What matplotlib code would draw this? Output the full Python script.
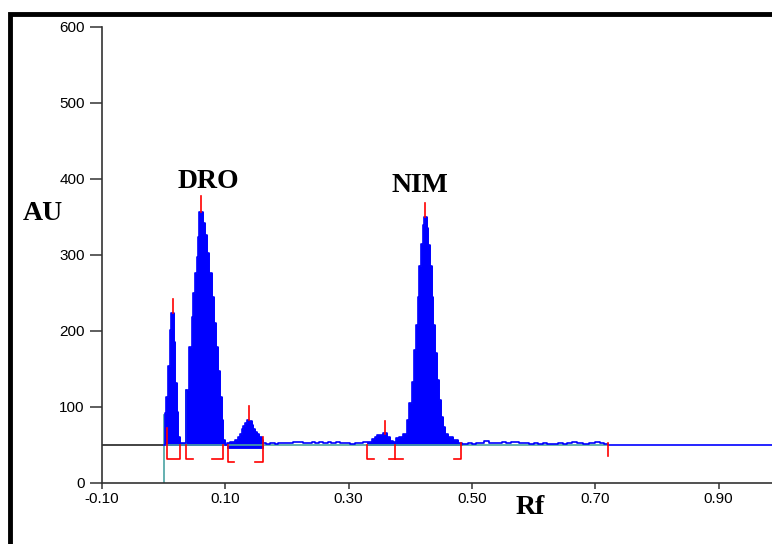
import numpy as np
import matplotlib
matplotlib.use("Agg")
import matplotlib.pyplot as plt
from matplotlib.patches import Rectangle

rf = np.array([
    0.000, 0.002, 0.0045, 0.007, 0.0095, 0.0125, 0.017, 0.019, 0.0215, 0.024, 0.026,
    0.0363, 0.0417, 0.0455, 0.0481, 0.0509, 0.0536, 0.0552, 0.0578, 0.0643, 0.0671,
    0.0698, 0.0741, 0.0779, 0.0817, 0.0849, 0.0887, 0.0914, 0.0942, 0.0968, 0.099,
    0.1023, 0.1076, 0.1157, 0.1211, 0.1238, 0.1266, 0.1292, 0.1320, 0.1347, 0.1390,
    0.1428, 0.1454, 0.1482, 0.1509, 0.1552, 0.1590, 0.1616,
    0.166, 0.172, 0.180, 0.186, 0.194, 0.202, 0.210, 0.218, 0.226, 0.234, 0.240,
    0.246, 0.252, 0.258, 0.266, 0.272, 0.280, 0.286, 0.294, 0.302, 0.310, 0.318, 0.324,
    0.3293, 0.3374, 0.3428, 0.3455, 0.3563, 0.3617, 0.3672, 0.3726, 0.3769, 0.3823,
    0.3888, 0.3942, 0.3985, 0.4023, 0.4061, 0.4093, 0.4120, 0.4147, 0.4174, 0.4201,
    0.4228, 0.4266, 0.4293, 0.4320, 0.4347, 0.4374, 0.4401, 0.4429, 0.4461, 0.4494,
    0.4526, 0.4564, 0.4618, 0.4699, 0.4780, 0.4834,
    0.487, 0.494, 0.500, 0.507, 0.513, 0.520, 0.527, 0.535, 0.542, 0.549, 0.556,
    0.563, 0.570, 0.577, 0.585, 0.592, 0.600, 0.607, 0.615, 0.622, 0.630, 0.640,
    0.647, 0.655, 0.662, 0.670, 0.680, 0.690, 0.700, 0.707, 0.714, 0.720, 0.990])
au = np.array([
    50, 92, 113, 154, 201, 224, 186, 131, 94, 60, 52,
    122, 179, 219, 250, 276, 298, 324, 357, 342, 326,
    302, 276, 245, 210, 179, 148, 113, 83, 56, 50,
    52, 54.5, 57, 61, 65, 70.6, 75.5, 79.4, 83, 81,
    76.7, 71, 67.6, 64.5, 60, 56.6, 52,
    51, 52.5, 51, 52.5, 52, 53, 54.5, 54.5, 52, 53, 54,
    53, 54, 52, 53.5, 52, 54, 52, 52.5, 51, 52.5, 53, 54,
    53.3, 57.5, 61, 62.8, 65.4, 60, 55.7, 53.5, 58.8, 60,
    65, 82.9, 104.8, 133, 175, 208, 245, 285, 315, 339,
    350, 335, 313, 285, 245, 208, 171, 135.5, 109, 87,
    74, 65, 60, 56, 53, 51,
    51, 52.5, 51, 52.5, 53, 55, 52.5, 52, 53, 54.5, 52.5,
    53.5, 54, 52.5, 53, 51, 52, 51, 52.5, 51, 51.5, 52.5,
    51, 53, 54, 52, 51, 52, 53.5, 52, 51, 50, 50])

# Ventanas de integración de cada pico: inicio, fin, línea base
ventana_ini = [0.002, 0.026, 0.0363, 0.1023, 0.3293]
ventana_fin = [0.026, 0.0363, 0.099, 0.1616, 0.4834]
ventana_base = [50, 50, 50, 46.5, 50]

# Marcas rojas de los máximos
pico_rf = [0.0155, 0.061, 0.138, 0.359, 0.424]
pico_bajo = [224, 357, 83, 65, 350]
pico_alto = [242, 377, 101, 81, 369]

# Corchetes rojos de integración
corchete_x = [[0.005, 0.005, 0.0265, 0.0265], [0.036, 0.036, 0.047], [0.078, 0.096, 0.096],
              [0.104, 0.104, 0.114], [0.148, 0.161, 0.161], [0.330, 0.330, 0.341],
              [0.376, 0.376], [0.366, 0.388], [0.471, 0.483, 0.483]]
corchete_y = [[72, 32, 32, 50], [50, 32, 32], [32, 32, 50],
              [50, 28, 28], [28, 28, 60], [50, 32, 32],
              [50, 32], [32, 32], [32, 32, 52]]

fin_rf = 0.72

x_ticks = [-0.10, 0.10, 0.30, 0.50, 0.70, 0.90]
y_ticks = [0, 100, 200, 300, 400, 500, 600]

fig = plt.figure(figsize=(7.72, 5.44), dpi=100)
ax = fig.add_axes([102 / 772, 61 / 544, 1 - 102 / 772, 456 / 544])

# Rellenos de los picos
for s, e, b in zip(ventana_ini, ventana_fin, ventana_base):
    m = (rf >= s - 1e-9) & (rf <= e + 1e-9)
    ax.fill_between(rf[m], b, au[m], step='post', facecolor='blue',
                    edgecolor='blue', lw=0.6)

# Líneas base
ax.plot([-0.1, 0.0], [50, 50], color='#222222', lw=1.2)
ax.plot([0.0, fin_rf], [50, 50], color='#4aa3a3', lw=1.2)
ax.plot([0.0, 0.0], [0, 90], color='#4aa3a3', lw=1.2)
ax.plot([0.0363, 0.0363], [50, 122], color='#4aa3a3', lw=1.2)

# Perfil
ax.step(rf, au, where='post', color='blue', lw=1.2)

# Marcas rojas
for x, lo, hi in zip(pico_rf, pico_bajo, pico_alto):
    ax.plot([x, x], [lo, hi], color='red', lw=1.2)
ax.plot([fin_rf, fin_rf], [35, 53], color='red', lw=1.2)
for cx, cy in zip(corchete_x, corchete_y):
    ax.plot(cx, cy, color='red', lw=1.2)

ax.set_xlim(-0.1, (772 - 102) / 616.5 - 0.1)
ax.set_ylim(0, 600)
ax.set_xticks(x_ticks)
ax.set_xticklabels([f'{t:.2f}' for t in x_ticks])
ax.set_yticks(y_ticks)
for s in ['top', 'right']:
    ax.spines[s].set_visible(False)
for s in ['left', 'bottom']:
    ax.spines[s].set_color('#333333')
    ax.spines[s].set_linewidth(1.2)
ax.tick_params(axis='y', length=8.5, width=1.1, pad=4, color='#333333', labelsize=11)
ax.tick_params(axis='x', length=4.5, width=1.1, pad=2, color='#333333', labelsize=11)
for lab in ax.get_xticklabels() + ax.get_yticklabels():
    lab.set_fontfamily('Liberation Sans')

serif = dict(family='Liberation Serif', fontweight='bold', fontsize=20, ha='center', va='center')
ax.text(0.072, 397, 'DRO', **serif)
ax.text(0.416, 392, 'NIM', **serif)
fig.text(43 / 772, 1 - 213 / 544, 'AU', **serif)
fig.text(530 / 772, 1 - 507 / 544, 'Rf', **serif)

# Marco negro
fig.patches.append(Rectangle((9.5 / 772, -0.1), 1.2, 1.1 - 14 / 544, transform=fig.transFigure,
                             fill=False, edgecolor='black', lw=3.5, clip_on=False))

fig.savefig('out.png', dpi=100)
